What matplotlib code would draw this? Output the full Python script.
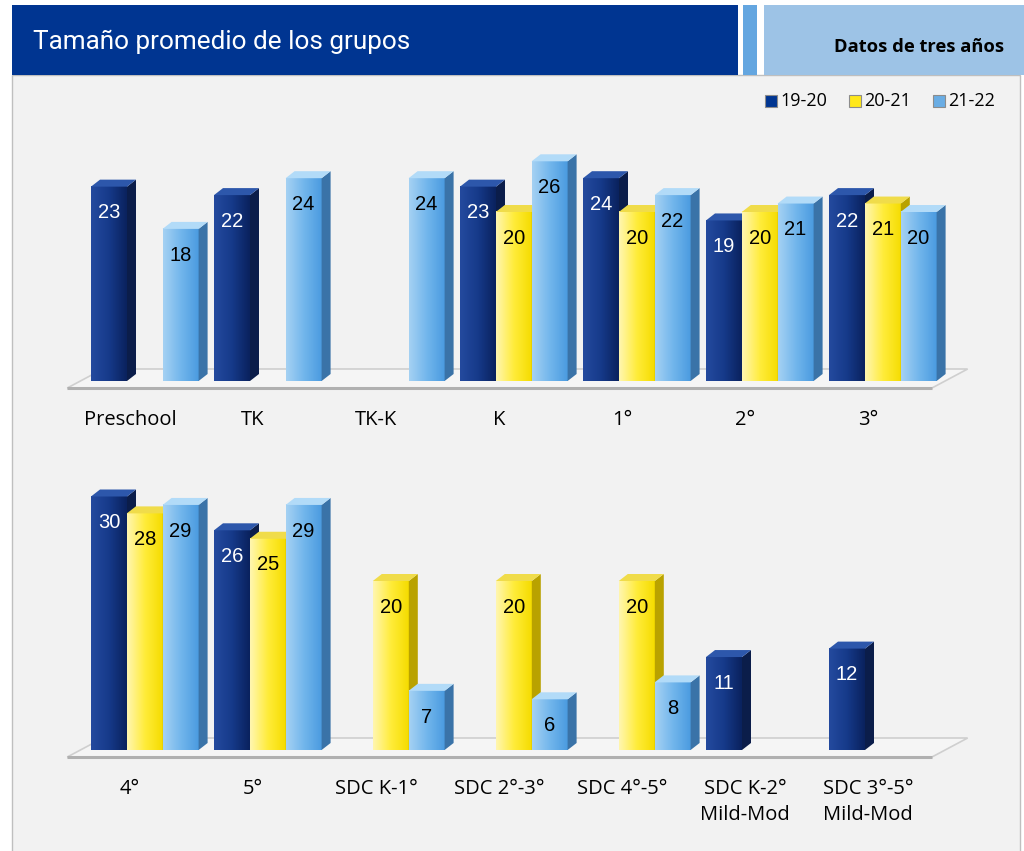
import matplotlib
matplotlib.use('Agg')
import matplotlib.pyplot as plt
import numpy as np
from matplotlib.patches import Polygon, Rectangle
from matplotlib.colors import LinearSegmentedColormap

# ---------------- data ----------------
series = ['19-20', '20-21', '21-22']
top_categories = ['Preschool', 'TK', 'TK-K', 'K', '1°', '2°', '3°']
top_19_20 = [23, 22, None, 23, 24, 19, 22]
top_20_21 = [None, None, None, 20, 20, 20, 21]
top_21_22 = [18, 24, 24, 26, 22, 21, 20]
bottom_categories = ['4°', '5°', 'SDC K-1°', 'SDC 2°-3°', 'SDC 4°-5°',
                     'SDC K-2°\nMild-Mod', 'SDC 3°-5°\nMild-Mod']
bottom_19_20 = [30, 26, None, None, None, 11, 12]
bottom_20_21 = [28, 25, 20, 20, 20, None, None]
bottom_21_22 = [29, 29, 7, 6, 8, None, None]
title = 'Tamaño promedio de los grupos'
subtitle = 'Datos de tres años'

# ---------------- style ----------------
W, H, DPI = 1024, 851, 100
PX_PER_GROUP = 123.0
PX_PER_UNIT = 8.45

styles = [
    dict(front=['#244a9e', '#163a8a', '#0a225e'], side='#0b1d4a', top='#2d57ab', txt='white', legend='#003591'),
    dict(front=['#fff6b0', '#ffec3a', '#f5dc00'], side='#b9a200', top='#f0dc4a', txt='black', legend='#ffe81a'),
    dict(front=['#a5d1f3', '#72b6ec', '#4b9be0'], side='#3a73a8', top='#b2dbf8', txt='black', legend='#6aade4'),
]
cmaps = [LinearSegmentedColormap.from_list('c%d' % i, s['front']) for i, s in enumerate(styles)]

fig = plt.figure(figsize=(W / DPI, H / DPI), dpi=DPI)
fig.patch.set_facecolor('white')


def px_axes(x0, y0, x1, y1):
    return fig.add_axes([x0 / W, 1 - y1 / H, (x1 - x0) / W, (y1 - y0) / H])


# ---------------- background / header ----------------
bg = px_axes(0, 0, W, H)
bg.set_xlim(0, W)
bg.set_ylim(H, 0)
bg.axis('off')
bg.add_patch(Rectangle((12, 75), 1008, 780, facecolor='#f2f2f2', edgecolor='#bfbfbf', lw=1))
bg.add_patch(Rectangle((12, 5), 726, 70, facecolor='#003591', edgecolor='none'))
bg.add_patch(Rectangle((743, 5), 14, 70, facecolor='#64a6e0', edgecolor='none'))
bg.add_patch(Rectangle((764, 5), 262, 70, facecolor='#9dc3e6', edgecolor='none'))
bg.text(33, 42, title, color='white', fontsize=18.8, va='center', ha='left',
        family=['Roboto', 'DejaVu Sans'])
bg.text(1004, 47, subtitle, color='black', fontsize=13.2, fontweight='bold', va='center', ha='right',
        family=['Open Sans', 'DejaVu Sans'])

# legend
leg_x = [765, 849, 933]
for i, (lx, name) in enumerate(zip(leg_x, series)):
    bg.add_patch(Rectangle((lx, 95), 12, 12, facecolor=styles[i]['legend'], edgecolor='#8c8c8c', lw=0.8))
    bg.text(lx + 15, 101.5, name, fontsize=13, va='center', ha='left', color='black',
            family=['Open Sans', 'DejaVu Sans'])

# ---------------- bar panels ----------------
BW = 36 / PX_PER_GROUP           # front width of a bar (group units)
DX = 9 / PX_PER_GROUP            # depth offset x
DY = 7 / PX_PER_UNIT             # depth offset y (value units)
OFF0 = -39 / PX_PER_GROUP        # left edge of first bar relative to group centre
PITCH = 35.8 / PX_PER_GROUP

grad = np.linspace(0, 1, 64).reshape(1, -1)


def draw_bar(ax, x0, h, st, cmap, z):
    x1 = x0 + BW
    ax.imshow(grad, extent=[x0, x1, 0, h], aspect='auto', cmap=cmap, zorder=z,
              interpolation='bicubic')
    ax.add_patch(Polygon([(x1, 0), (x1 + DX, DY), (x1 + DX, h + DY), (x1, h)],
                         closed=True, facecolor=st['side'], edgecolor='none', zorder=z))
    ax.add_patch(Polygon([(x0, h), (x1, h), (x1 + DX, h + DY), (x0 + DX, h + DY)],
                         closed=True, facecolor=st['top'], edgecolor='none', zorder=z + 0.1))
    ax.text(x0 + BW / 2, h - 3.1, '%d' % h, color=st['txt'], fontsize=14.5,
            ha='center', va='center', zorder=z + 0.2, family=['Liberation Sans', 'DejaVu Sans'])


def panel(y_top, y_bot, y_zero, cats, vals):
    ax = px_axes(0, y_top, W, y_bot)
    ax.axis('off')
    # floor
    fl, fr, bl, br = -0.51, 6.52, -0.22, 6.81
    fy, by = -7 / PX_PER_UNIT, 12 / PX_PER_UNIT
    ax.add_patch(Polygon([(fl, fy), (fr, fy), (br, by), (bl, by)], closed=True,
                         facecolor='#f5f5f5', edgecolor='#cfcfcf', lw=1.2, zorder=1))
    ax.plot([fl, fr], [fy, fy], color='#b0b0b0', lw=2.2, zorder=2, solid_capstyle='butt')
    z = 10
    for g, cat in enumerate(cats):
        for i in range(3):
            v = vals[i][g]
            if v is None:
                continue
            draw_bar(ax, g + OFF0 + i * PITCH, v, styles[i], cmaps[i], z)
            z += 1
        ax.text(g, -3.4, cat, ha='center', va='top', fontsize=14.5, linespacing=1.45,
                family=['Open Sans', 'DejaVu Sans'], color='black')
    ax.set_xlim(-130 / PX_PER_GROUP, (W - 130) / PX_PER_GROUP)
    ax.set_ylim(-(y_bot - y_zero) / PX_PER_UNIT, (y_zero - y_top) / PX_PER_UNIT)
    return ax


panel(112, 445, 381, top_categories, [top_19_20, top_20_21, top_21_22])
panel(455, 848, 750, bottom_categories, [bottom_19_20, bottom_20_21, bottom_21_22])

fig.savefig('out.png', dpi=DPI, facecolor=fig.get_facecolor())
